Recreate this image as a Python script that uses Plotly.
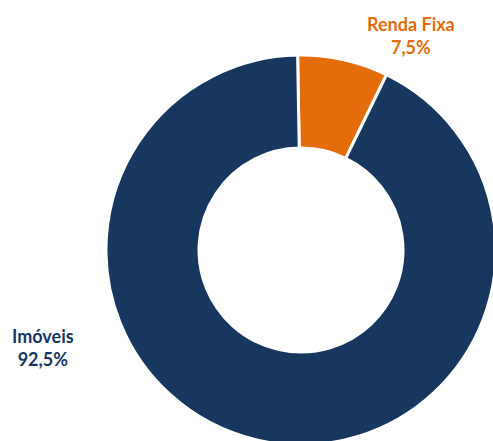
import plotly.graph_objects as go

labels = ["Renda Fixa", "Imóveis"]
values = [7.5, 92.5]
value_text = ["7,5%", "92,5%"]
colors = ["#E46C0A", "#17375E"]

W, H = 600, 560
cx, cy, r = 301, 250, 195  # pie centre / radius in page pixels

fig = go.Figure(go.Pie(
    labels=labels,
    values=values,
    sort=False,
    direction="clockwise",
    rotation=-1,
    hole=0.523,
    marker=dict(colors=colors, line=dict(color="white", width=3)),
    textinfo="none",
    hoverinfo="label+percent",
    showlegend=False,
    domain=dict(x=[(cx - r) / W, (cx + r) / W], y=[1 - (cy + r) / H, 1 - (cy - r) / H]),
))

label_pos = [(411, 35), (43, 347)]
for lab, vt, col, (px, py) in zip(labels, value_text, colors, label_pos):
    fig.add_annotation(
        x=px / W, y=1 - py / H, xref="paper", yref="paper",
        text=f"<b>{lab}</b><br><b>{vt}</b>",
        showarrow=False, align="center",
        font=dict(family="Lato", size=18, color=col),
        xanchor="center", yanchor="middle",
    )

fig.update_layout(
    width=W, height=H,
    margin=dict(l=0, r=0, t=0, b=0),
    paper_bgcolor="white", plot_bgcolor="white",
)

fig.write_html(
    "out.html",
    post_script="document.body.style.margin='0';document.body.style.overflow='hidden';",
)
